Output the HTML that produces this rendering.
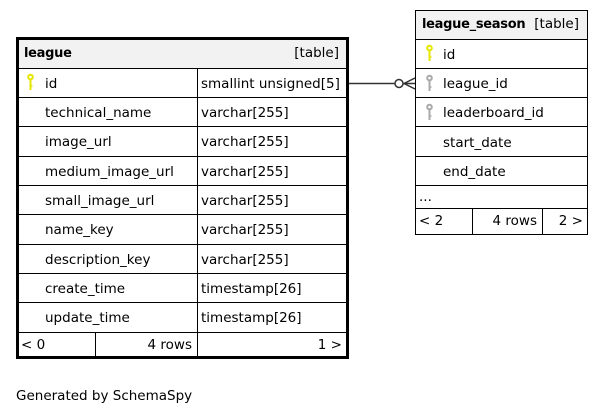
<!DOCTYPE html>
<html><head><meta charset="utf-8"><style>
html,body{margin:0;padding:0;background:#fff;}
svg{display:block;}
text{font-family:"DejaVu Sans","Liberation Sans",sans-serif;font-size:13.5px;fill:#000;}
text.h{font-size:13px;font-weight:bold;letter-spacing:-0.3px;}
</style></head><body>
<svg width="603" height="415" viewBox="0 0 603 415" xmlns="http://www.w3.org/2000/svg">
<defs>
<g id="ky"><circle cx="0" cy="0" r="2.3" fill="none" stroke-width="2"/><line x1="0" y1="2.3" x2="0" y2="13" stroke-width="2"/><line x1="0" y1="9" x2="2" y2="9" stroke-width="1.5"/></g>
</defs>
<rect x="18" y="39" width="329" height="29" fill="#f2f2f2"/>
<g stroke="#000" stroke-width="1" fill="none">
<line x1="18" y1="68.5" x2="347" y2="68.5"/>
<line x1="18" y1="97.5" x2="347" y2="97.5"/>
<line x1="18" y1="126.5" x2="347" y2="126.5"/>
<line x1="18" y1="156.5" x2="347" y2="156.5"/>
<line x1="18" y1="185.5" x2="347" y2="185.5"/>
<line x1="18" y1="214.5" x2="347" y2="214.5"/>
<line x1="18" y1="244.5" x2="347" y2="244.5"/>
<line x1="18" y1="273.5" x2="347" y2="273.5"/>
<line x1="18" y1="302.5" x2="347" y2="302.5"/>
<line x1="18" y1="332.5" x2="347" y2="332.5"/>
<line x1="197.5" y1="68" x2="197.5" y2="356"/>
<line x1="95.5" y1="332" x2="95.5" y2="356"/>
</g>
<rect x="17.5" y="38.5" width="330" height="319" fill="none" stroke="#000" stroke-width="3"/>
<text x="24" y="57" class="h">league</text>
<text x="339" y="57" text-anchor="end">[table]</text>
<g stroke="#e6e600"><use href="#ky" x="30.5" y="77"/></g>
<text x="45" y="88">id</text><text x="201" y="88">smallint unsigned[5]</text>
<text x="45" y="117">technical_name</text><text x="201" y="117">varchar[255]</text>
<text x="45" y="146">image_url</text><text x="201" y="146">varchar[255]</text>
<text x="45" y="176">medium_image_url</text><text x="201" y="176">varchar[255]</text>
<text x="45" y="205">small_image_url</text><text x="201" y="205">varchar[255]</text>
<text x="45" y="234">name_key</text><text x="201" y="234">varchar[255]</text>
<text x="45" y="264">description_key</text><text x="201" y="264">varchar[255]</text>
<text x="45" y="293">create_time</text><text x="201" y="293">timestamp[26]</text>
<text x="45" y="322">update_time</text><text x="201" y="322">timestamp[26]</text>
<text x="21" y="349">&lt; 0</text>
<text x="192" y="349" text-anchor="end">4 rows</text>
<text x="342" y="349" text-anchor="end">1 &gt;</text>

<rect x="416" y="11" width="171" height="28" fill="#f2f2f2"/>
<g stroke="#000" stroke-width="1" fill="none">
<rect x="415.5" y="10.5" width="172" height="224"/>
<line x1="415" y1="39.5" x2="588" y2="39.5"/>
<line x1="415" y1="68.5" x2="588" y2="68.5"/>
<line x1="415" y1="97.5" x2="588" y2="97.5"/>
<line x1="415" y1="126.5" x2="588" y2="126.5"/>
<line x1="415" y1="156.5" x2="588" y2="156.5"/>
<line x1="415" y1="185.5" x2="588" y2="185.5"/>
<line x1="415" y1="208.5" x2="588" y2="208.5"/>
<line x1="472.5" y1="208" x2="472.5" y2="235"/>
<line x1="542.5" y1="208" x2="542.5" y2="235"/>
</g>
<text x="422" y="28" class="h">league_season</text>
<text x="579" y="28" text-anchor="end">[table]</text>
<g stroke="#e6e600"><use href="#ky" x="429.5" y="48"/></g>
<g stroke="#aaa"><use href="#ky" x="429.5" y="78"/><use href="#ky" x="429.5" y="107"/></g>
<text x="443" y="59">id</text>
<text x="443" y="88">league_id</text>
<text x="443" y="117">leaderboard_id</text>
<text x="443" y="147">start_date</text>
<text x="443" y="176">end_date</text>
<text x="419" y="201">...</text>
<text x="419" y="225">&lt; 2</text>
<text x="537" y="225" text-anchor="end">4 rows</text>
<text x="583" y="225" text-anchor="end">2 &gt;</text>

<g stroke="#333" stroke-width="1.5" fill="none">
<line x1="349" y1="83.5" x2="395" y2="83.5"/>
<circle cx="399" cy="83.5" r="4" fill="#fff"/>
<line x1="403" y1="83.5" x2="415" y2="83.5"/>
<line x1="404" y1="83.5" x2="415" y2="78"/>
<line x1="404" y1="83.5" x2="415" y2="89"/>
</g>

<text x="16" y="400">Generated by SchemaSpy</text>
</svg>
</body></html>
